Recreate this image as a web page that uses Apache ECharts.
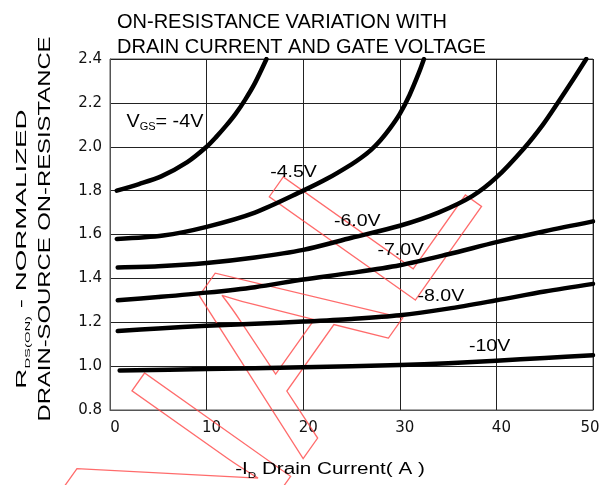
<!DOCTYPE html>
<html><head><meta charset="utf-8">
<script src="https://cdn.jsdelivr.net/npm/echarts@6/dist/echarts.min.js"></script>
<style>html,body{margin:0;padding:0;background:#fff}#c{width:610px;height:485px}</style>
</head><body><div id="c"></div>
<script>
// ---- data ----
const titleLines = ['ON-RESISTANCE VARIATION WITH', 'DRAIN CURRENT AND GATE VOLTAGE'];
const xRange = [0, 50, 10];
const yRange = [0.8, 2.4, 0.2];
const vgs4  = [[0.7,1.80],[3,1.83],[5.3,1.865],[8,1.93],[10,2.0],[11,2.045],[12,2.095],[13,2.15],[14,2.215],[15,2.29],[16.2,2.4]];
const vgs45 = [[0.7,1.58],[5.5,1.595],[10,1.635],[15,1.70],[20,1.80],[22.5,1.855],[25,1.92],[26,1.95],[27,1.985],[28,2.03],[29,2.085],[30,2.15],[31,2.235],[32,2.34],[32.5,2.4]];
const vgs6  = [[0.8,1.45],[5,1.455],[10,1.47],[15,1.495],[20,1.53],[25,1.585],[30,1.64],[34,1.70],[37.5,1.775],[40,1.86],[42.8,1.99],[44.8,2.1],[46.5,2.21],[48,2.31],[49.3,2.4]];
const vgs7  = [[0.8,1.30],[5,1.315],[10,1.335],[15,1.36],[20,1.395],[25,1.425],[30,1.46],[35,1.51],[40,1.565],[45,1.615],[50,1.66]];
const vgs8  = [[0.8,1.16],[5,1.172],[10,1.184],[15,1.193],[20,1.203],[25,1.215],[30,1.232],[35,1.262],[40,1.30],[45,1.34],[50,1.375]];
const vgs10 = [[1,0.98],[10,0.987],[20,0.995],[30,1.005],[35,1.013],[40,1.025],[45,1.037],[50,1.05]];
const seriesNames = ['-4V','-4.5V','-6.0V','-7.0V','-8.0V','-10V'];
const curveLabelTexts = ['-4.5V','-6.0V','-7.0V','-8.0V','-10V'];
const curveLabelAt = [[19.0,1.882],[25.6,1.658],[30.1,1.529],[34.25,1.317],[39.3,1.089]];
const vgsLabelAt = [1.7, 2.114];
const xName = ['-I', 'D', ' Drain Current( A )'];
const yName1 = ['R', 'DS(ON)', ' - NORMALIZED'];
const yName2 = 'DRAIN-SOURCE ON-RESISTANCE';
const watermark = 'FINAL';

const FONT = '"Liberation Sans", Arial, sans-serif';
const chart = echarts.init(document.getElementById('c'), null, {renderer: 'canvas'});
const allSeries = [vgs4, vgs45, vgs6, vgs7, vgs8, vgs10];

chart.setOption({
  animation: false,
  backgroundColor: '#fff',
  title: {
    text: titleLines.join('\n'), left: 112, top: 5,
    textStyle: {fontFamily: FONT, fontSize: 20, fontWeight: 'normal', color: '#000', lineHeight: 25}
  },
  grid: {left: 110, right: 17, top: 59, bottom: 75, show: true, borderColor: '#555', borderWidth: 1},
  xAxis: {
    type: 'value', min: xRange[0], max: xRange[1], interval: xRange[2],
    axisLine: {show: true, lineStyle: {color: '#555', width: 1}},
    axisTick: {show: false},
    splitLine: {show: true, lineStyle: {color: '#222', width: 1}},
    axisLabel: {
      margin: 11, color: '#111', fontFamily: '"DejaVu Sans", sans-serif', fontSize: 15,
      formatter: v => v === xRange[1] ? '{e|' + v + '}' : '{n|' + v + '}',
      rich: {n: {padding: [0,0,0,10], fontFamily: '"DejaVu Sans", sans-serif', fontSize: 15, color: '#111'},
             e: {padding: [0,6,0,0], fontFamily: '"DejaVu Sans", sans-serif', fontSize: 15, color: '#111'}}
    }
  },
  yAxis: {
    type: 'value', min: yRange[0], max: yRange[1], interval: yRange[2],
    axisLine: {show: true, lineStyle: {color: '#555', width: 1}},
    axisTick: {show: false},
    splitLine: {show: true, lineStyle: {color: '#222', width: 1}},
    axisLabel: {margin: 8, color: '#111', fontFamily: '"DejaVu Sans", sans-serif', fontSize: 15,
      formatter: v => v.toFixed(1)}
  },
  series: allSeries.map((d, i) => ({
    name: seriesNames[i], type: 'line', data: d, showSymbol: false, symbol: 'none',
    smooth: 0.3, clip: true, z: 3,
    lineStyle: {color: '#000', width: 4.5, cap: 'round', join: 'round'}
  }))
});

const graphics = [];
curveLabelTexts.forEach((t, i) => {
  const p = chart.convertToPixel({gridIndex: 0}, curveLabelAt[i]);
  graphics.push({type: 'text', x: p[0], y: p[1], scaleX: 1.15, z: 10,
    style: {text: t, fontFamily: FONT, fontSize: 17, fill: '#000', align: 'center', verticalAlign: 'middle'}});
});
{
  const p = chart.convertToPixel({gridIndex: 0}, vgsLabelAt);
  graphics.push({type: 'text', x: p[0], y: p[1], scaleX: 1.1, z: 10,
    style: {text: '{a|V}{s|GS}{a|= -4V}', align: 'left', verticalAlign: 'middle',
      rich: {a: {fontFamily: FONT, fontSize: 18, lineHeight: 22, fill: '#000', color: '#000'},
             s: {fontFamily: FONT, fontSize: 10, lineHeight: 11, verticalAlign: 'bottom', fill: '#000', color: '#000'}}}});
}
graphics.push({type: 'text', x: 330, y: 470, scaleX: 1.29, z: 10,
  style: {text: '{a|' + xName[0] + '}{s|' + xName[1] + '}{a|' + xName[2] + '}', align: 'center', verticalAlign: 'middle',
    rich: {a: {fontFamily: FONT, fontSize: 16, lineHeight: 20, fill: '#000', color: '#000'},
           s: {fontFamily: FONT, fontSize: 9, lineHeight: 10, verticalAlign: 'bottom', fill: '#000', color: '#000'}}}});
graphics.push({type: 'text', x: 22, y: 249, rotation: Math.PI / 2, scaleX: 1.85, z: 10,
  style: {text: '{a|' + yName1[0] + '}{s|' + yName1[1] + '}{a|' + yName1[2] + '}', align: 'center', verticalAlign: 'middle',
    rich: {a: {fontFamily: FONT, fontSize: 15, lineHeight: 20, fill: '#000', color: '#000'},
           s: {fontFamily: FONT, fontSize: 8, lineHeight: 9, verticalAlign: 'bottom', fill: '#000', color: '#000'}}}});
graphics.push({type: 'text', x: 46, y: 229, rotation: Math.PI / 2, scaleX: 1.49, z: 10,
  style: {text: yName2, fontFamily: FONT, fontSize: 16, fill: '#000', align: 'center', verticalAlign: 'middle'}});
graphics.push({type: 'text', x: 428, y: 158, rotation: 0.955, z: 1, silent: true,
  style: {text: watermark, fontFamily: FONT, fontSize: 260, fill: 'none', stroke: 'rgba(255,70,70,0.8)', lineWidth: 1.3,
    align: 'right', verticalAlign: 'middle'}});

chart.setOption({graphic: graphics});
</script>
</body></html>
